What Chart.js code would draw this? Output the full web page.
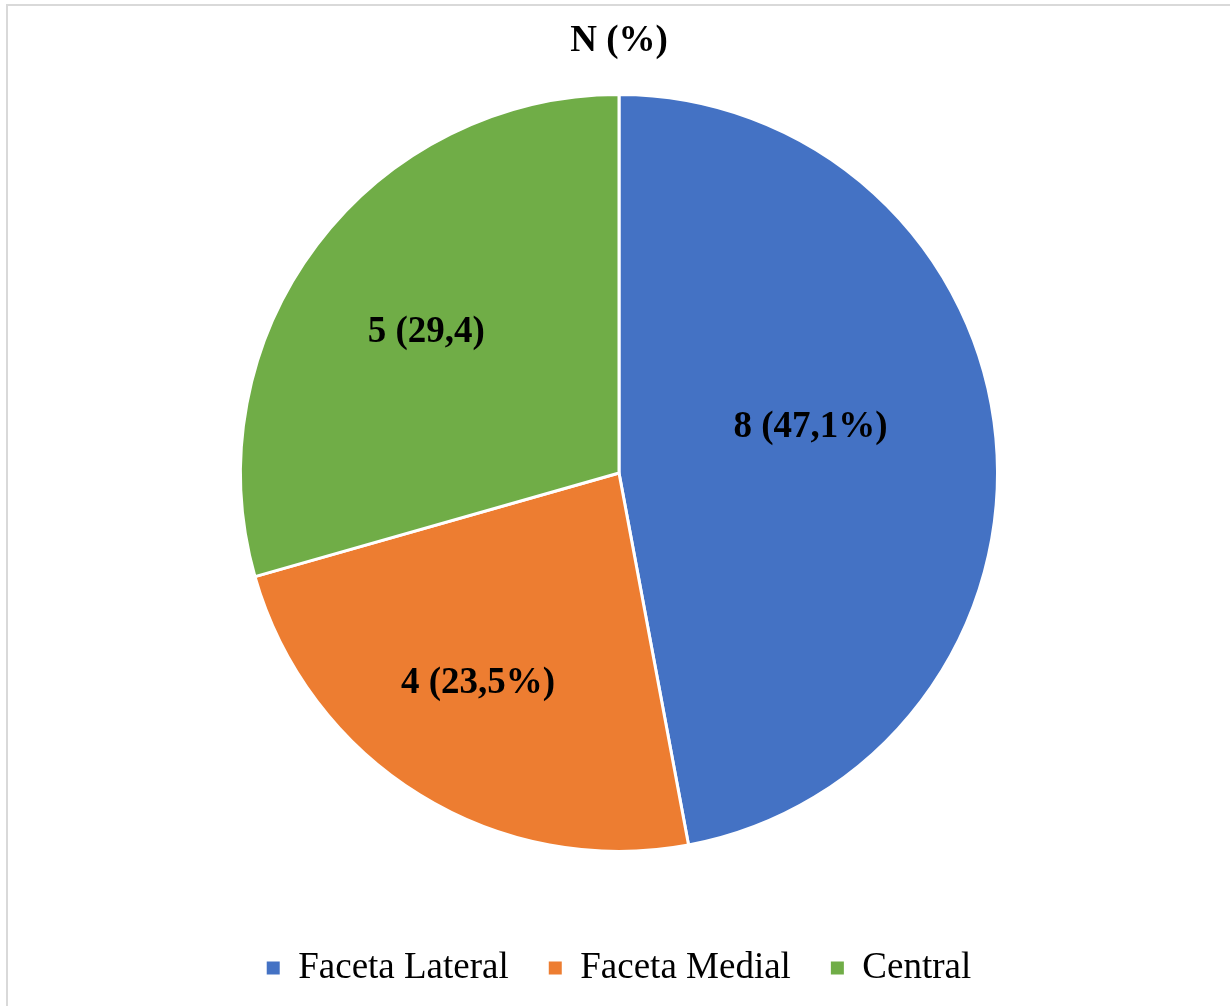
<!DOCTYPE html>
<html lang="pt">
<head>
<meta charset="utf-8">
<title>N (%)</title>
<script src="https://cdn.jsdelivr.net/npm/chart.js@4/dist/chart.umd.min.js"></script>
<style>
  html, body { margin: 0; padding: 0; background: #fff; overflow: hidden; }
  .frame {
    position: absolute; left: 6px; top: 4px;
    width: 1240px; height: 1020px;
    border-left: 2px solid #d9d9d9; border-top: 2px solid #d9d9d9;
  }
  .wrap { position: absolute; left: 0; top: 0; width: 1230px; height: 1006px; }
</style>
</head>
<body>
<div class="frame"></div>
<div class="wrap"><canvas id="facetChart"></canvas></div>
<script>
// Localização das lesões
const categories = ['Faceta Lateral', 'Faceta Medial', 'Central'];
const counts = [8, 4, 5];
const sliceLabels = ['8 (47,1%)', '4 (23,5%)', '5 (29,4)'];
const colors = ['#4472C4', '#ED7D31', '#70AD47'];

// where each value label sits: fraction of the radius, angle shift (deg)
const labelPlacement = [
  { r: 0.52, shift: -8 },
  { r: 0.67, shift: 2 },
  { r: 0.63, shift: -1 }
];

const serif = '"Times New Roman", "Liberation Serif", serif';

const sliceLabelPlugin = {
  id: 'sliceLabels',
  afterDatasetsDraw(chart) {
    const ctx = chart.ctx;
    const arcs = chart.getDatasetMeta(0).data;
    ctx.save();
    ctx.font = 'bold 37px ' + serif;
    ctx.fillStyle = '#000';
    ctx.textAlign = 'center';
    ctx.textBaseline = 'middle';
    arcs.forEach((arc, i) => {
      const p = arc.getProps(['x', 'y', 'startAngle', 'endAngle', 'outerRadius'], true);
      const place = labelPlacement[i];
      const mid = (p.startAngle + p.endAngle) / 2 + place.shift * Math.PI / 180;
      const d = p.outerRadius * place.r;
      ctx.fillText(sliceLabels[i], p.x + Math.cos(mid) * d, p.y + Math.sin(mid) * d);
    });
    ctx.restore();
  }
};

const baseLegendLabels = Chart.overrides.pie.plugins.legend.labels.generateLabels;

new Chart(document.getElementById('facetChart'), {
  type: 'pie',
  data: {
    labels: categories,
    datasets: [{
      data: counts,
      backgroundColor: colors,
      borderColor: '#fff',
      borderWidth: 3,
      hoverOffset: 0
    }]
  },
  options: {
    responsive: true,
    maintainAspectRatio: false,
    animation: false,
    layout: { padding: { top: 0, bottom: 9.5, left: 20, right: 12 } },
    plugins: {
      title: {
        display: true,
        text: 'N (%)',
        color: '#000',
        font: { family: serif, size: 37, weight: 'bold' },
        padding: { top: 19, bottom: 29.6 }
      },
      legend: {
        position: 'bottom',
        // empty title only adds room between the pie and the legend row
        title: { display: true, text: '', font: { size: 10 }, padding: { top: 44.5, bottom: 0 } },
        labels: {
          color: '#000',
          font: { family: serif, size: 37 },
          boxWidth: 13,
          boxHeight: 13,
          padding: 40,
          generateLabels: chart => baseLegendLabels(chart).map(l => ({ ...l, lineWidth: 0 }))
        }
      },
      tooltip: { enabled: false }
    }
  },
  plugins: [sliceLabelPlugin]
});
</script>
</body>
</html>
